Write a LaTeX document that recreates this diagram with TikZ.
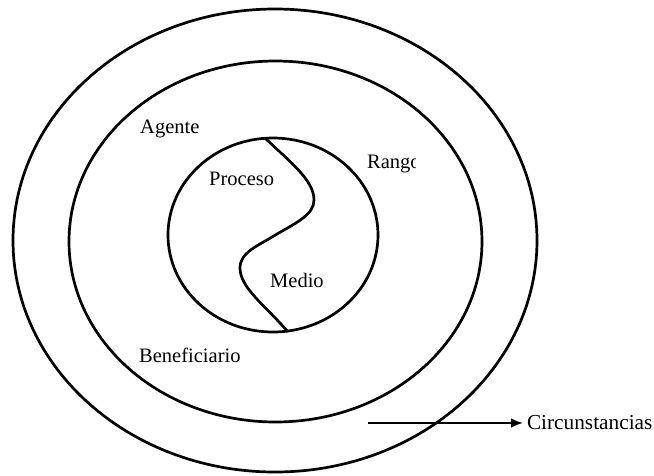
\documentclass[tikz,border=0pt]{standalone}
\usepackage{fontspec}
\setmainfont{Liberation Serif}
\usetikzlibrary{shapes.geometric,arrows.meta}
\begin{document}
\begin{tikzpicture}[x=1pt,y=-1pt,
  ring/.style={draw=black,line width=2.7pt,ellipse,inner sep=0pt,outer sep=0pt},
  lbl/.style={inner sep=0pt,anchor=base west,font=\fontsize{20.5}{24}\selectfont},
  curveline/.style={draw=black,line width=2.7pt}]
  \useasboundingbox (0,0) rectangle (654,475);

  % three nested rings
  \node[ring,minimum width=524pt,minimum height=463pt] (outer) at (275,240.5) {};
  \node[ring,minimum width=413pt,minimum height=361pt] (middle) at (275.5,241.5) {};
  \node[ring,minimum width=210pt,minimum height=194pt] (inner) at (273,235) {};

  % dividing S-curve inside the inner circle
  \coordinate (stop) at (265,138);
  \coordinate (sbottom) at (288,332);
  \path[curveline] (stop)
     .. controls (290,162) and (314,180) .. (314,200)
     .. controls (314,214) and (298,222) .. (277,234)
     .. controls (258,246) and (240,252) .. (240,268)
     .. controls (240,288) and (266,306) .. (sbottom);

  % labels
  \node[lbl] (agente) at (140,133) {Agente};
  \begin{scope}
    \clip (360,140) rectangle (415.5,180);
    \node[lbl] (rango) at (367,168) {Rango};
  \end{scope}
  \node[lbl] (proceso) at (209,185) {Proceso};
  \node[lbl] (medio) at (270,287) {Medio};
  \node[lbl] (benef) at (139,362) {Beneficiario};

  % arrow to the surrounding circumstances
  \node[inner sep=0pt,outer sep=0pt,anchor=west,font=\fontsize{21.3}{24}\selectfont]
    (circ) at (527,423) {Circunstancias};
  \coordinate (arrowstart) at (368,423);
  \draw[line width=2.4pt,-{Latex[length=12pt,width=10pt]},shorten >=4pt]
    (arrowstart) -- (circ.west);
\end{tikzpicture}
\end{document}
